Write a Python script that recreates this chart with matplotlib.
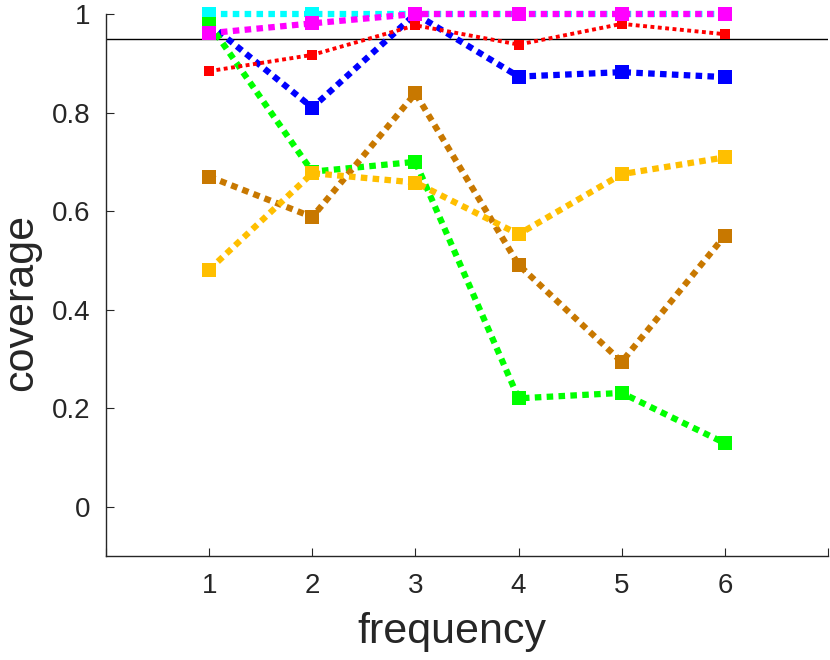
import matplotlib
matplotlib.use("Agg")
import matplotlib.pyplot as plt

freq = [1, 2, 3, 4, 5, 6]
cyan_vals = [1.0, 1.0, 1.0, 1.0, 1.0, 1.0]
blue_vals = [0.98, 0.81, 1.0, 0.873, 0.882, 0.872]
green_vals = [0.98, 0.680, 0.700, 0.220, 0.231, 0.129]
red_vals = [0.884, 0.917, 0.977, 0.938, 0.980, 0.959]
brown_vals = [0.670, 0.588, 0.839, 0.491, 0.294, 0.550]
yellow_vals = [0.481, 0.677, 0.658, 0.553, 0.675, 0.709]
magenta_vals = [0.961, 0.981, 1.0, 1.0, 1.0, 1.0]
ref_level = 0.95
xtick_vals = [0, 1, 2, 3, 4, 5, 6, 7]
xtick_labels = ["", "1", "2", "3", "4", "5", "6", ""]
ytick_vals = [0, 0.2, 0.4, 0.6, 0.8, 1.0]
ytick_labels = ["0", "0.2", "0.4", "0.6", "0.8", "1"]

plt.rcParams['font.family'] = ['Liberation Sans', 'DejaVu Sans']

fig = plt.figure(figsize=(8.3, 6.6), dpi=100)
ax = fig.add_axes([106/830, 1 - 556/660, (828 - 106)/830, (556 - 14)/660])

thick = dict(linewidth=4.5, linestyle=(0, (1.05, 0.85)), marker='s', markersize=9.5,
             clip_on=False, dash_capstyle='butt')

series = [
    (cyan_vals, '#00FFFF', thick),
    (blue_vals, '#0000FF', thick),
    (green_vals, '#00FF00', thick),
    (red_vals, '#FF0000', dict(linewidth=2.8, linestyle=(0, (1.0, 0.9)), marker='s',
                               markersize=7, clip_on=False, dash_capstyle='butt')),
    (brown_vals, '#C87800', thick),
    (yellow_vals, '#FFBF00', thick),
    (magenta_vals, '#FF00FF', thick),
]
for vals, col, kw in series:
    ax.plot(freq, vals, color=col, markeredgewidth=0, **kw)

ax.axhline(ref_level, color='black', linewidth=1.0, zorder=1)

ax.set_xlim(0, 7)
ax.set_ylim(-0.1, 1.0)
ax.set_xticks(xtick_vals)
ax.set_xticklabels(xtick_labels)
ax.set_yticks(ytick_vals)
ax.set_yticklabels(ytick_labels)

for s in ['top', 'right']:
    ax.spines[s].set_visible(False)
for s in ['left', 'bottom']:
    ax.spines[s].set_color('#262626')
    ax.spines[s].set_linewidth(1.0)

ax.tick_params(direction='in', length=6, width=0.8, colors='#262626',
               labelsize=20, pad=11)
ax.tick_params(axis='x', pad=12)

fig.text(452/830, 1 - 632/660, 'frequency', fontsize=31, color='#262626',
         ha='center', va='center')
fig.text(21/830, 1 - 302/660, 'coverage', fontsize=31, color='#262626',
         ha='center', va='center', rotation=90)

fig.savefig('out.png', dpi=100)
